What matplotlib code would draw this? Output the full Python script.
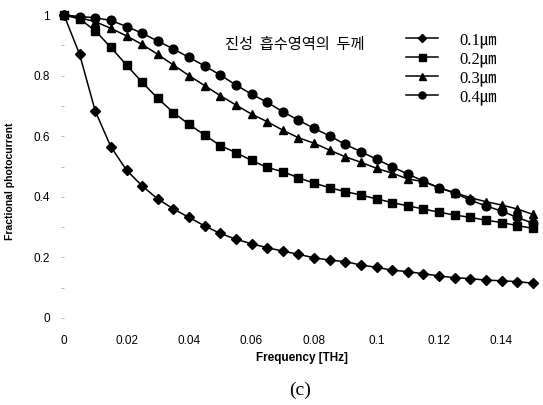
import numpy as np
import matplotlib
matplotlib.use('Agg')
import matplotlib.pyplot as plt

# 주파수 (THz)
freq = np.round(np.arange(31) * 0.005, 3)

# 두께별 fractional photocurrent
d01 = [1.0, 0.870, 0.683, 0.565, 0.488, 0.436, 0.393, 0.360, 0.332, 0.304, 0.279,
       0.260, 0.245, 0.232, 0.221, 0.210, 0.199, 0.191, 0.186, 0.175, 0.167,
       0.158, 0.153, 0.146, 0.139, 0.133, 0.130, 0.125, 0.123, 0.120, 0.115]
d02 = [1.0, 0.987, 0.948, 0.893, 0.835, 0.778, 0.725, 0.678, 0.639, 0.604, 0.569,
       0.546, 0.520, 0.497, 0.483, 0.463, 0.445, 0.430, 0.417, 0.406, 0.393,
       0.381, 0.370, 0.360, 0.349, 0.340, 0.332, 0.323, 0.315, 0.305, 0.296]
d03 = [1.0, 0.991, 0.978, 0.956, 0.931, 0.903, 0.870, 0.835, 0.800, 0.767, 0.734,
       0.703, 0.673, 0.648, 0.620, 0.595, 0.577, 0.554, 0.532, 0.514, 0.494,
       0.478, 0.459, 0.450, 0.430, 0.414, 0.397, 0.384, 0.373, 0.360, 0.342]
d04 = [1.0, 0.995, 0.991, 0.982, 0.962, 0.940, 0.914, 0.888, 0.860, 0.832, 0.802,
       0.769, 0.739, 0.712, 0.681, 0.653, 0.626, 0.601, 0.573, 0.549, 0.524,
       0.499, 0.475, 0.452, 0.430, 0.412, 0.389, 0.370, 0.353, 0.332, 0.313]

labels = ['0.1㎛', '0.2㎛', '0.3㎛', '0.4㎛']
markers = ['D', 's', '^', 'o']
sizes = [4.8, 6.3, 6.3, 6.3]

xticks = [0, 0.02, 0.04, 0.06, 0.08, 0.1, 0.12, 0.14]
xticklabels = ['0', '0.02', '0.04', '0.06', '0.08', '0.1', '0.12', '0.14']
yticks = [0, 0.2, 0.4, 0.6, 0.8, 1.0]
yticklabels = ['0', '0.2', '0.4', '0.6', '0.8', '1']

fig = plt.figure(figsize=(5.43, 4.05), dpi=100)
ax = fig.add_axes([64 / 543, 87 / 405, 475 / 543, 303 / 405])

for y, lab, m, s in zip([d01, d02, d03, d04], labels, markers, sizes):
    ax.plot(freq, y, color='black', lw=1.1, marker=m, ms=s, label=lab, clip_on=False)

ax.set_xlim(0, 0.152)
ax.set_ylim(0, 1.0)
for sp in ax.spines.values():
    sp.set_visible(False)

ax.set_xticks(xticks)
ax.set_xticklabels(xticklabels, family='Liberation Sans', fontsize=8.5)
ax.set_yticks(yticks)
ax.set_yticklabels(yticklabels, family='Liberation Sans', fontsize=8.5)
ax.set_yticks([0.1, 0.3, 0.5, 0.7, 0.9], minor=True)
ax.tick_params(axis='x', length=0, pad=12)
ax.tick_params(axis='y', which='both', length=2, width=0.6, color='#aaaaaa', pad=8)

ax.set_xlabel('Frequency [THz]', family='Liberation Sans', fontsize=8.5,
              fontweight='bold', labelpad=4)
ax.set_ylabel('Fractional photocurrent', family='Liberation Sans', fontsize=7.5,
              fontweight='bold')
ax.yaxis.set_label_coords(-0.103, 0.45)

fig.text(225 / 543, 1 - 45 / 405, '진성  흡수영역의  두께', family=['Noto Sans CJK KR', 'DejaVu Sans'],
         fontsize=11, va='center', ha='left')

leg = fig.legend(loc='upper left', bbox_to_anchor=(398 / 543, 1 - 24 / 405), frameon=False,
                 prop={'family': ['Liberation Serif', 'Noto Sans CJK KR'], 'size': 12},
                 handlelength=1.9, handletextpad=1.3, labelspacing=0.18, borderpad=0,
                 markerscale=0.8)

fig.text(300 / 543, 1 - 390 / 405, '(c)', family='Liberation Serif', fontsize=14,
         ha='center', va='center')

fig.savefig('out.png', dpi=100)
